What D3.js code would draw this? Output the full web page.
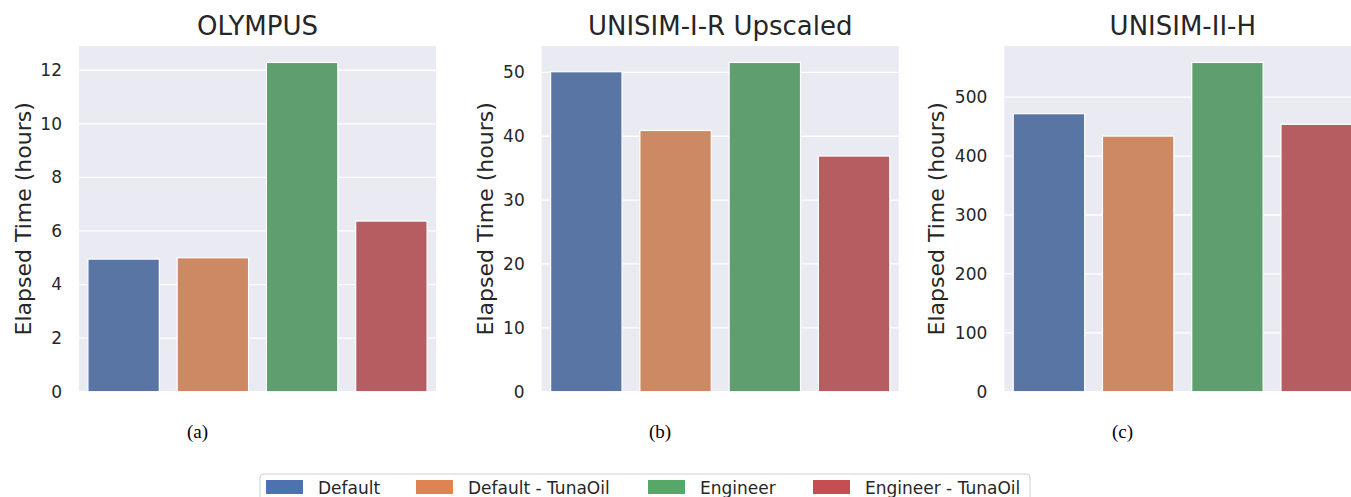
<!DOCTYPE html>
<html>
<head>
<meta charset="utf-8">
<script src="https://cdn.jsdelivr.net/npm/d3@7"></script>
<style>
  body { margin: 0; background: #fff; overflow: hidden; }
  svg { display: block; }
</style>
</head>
<body>
<div id="chart"></div>
<script>
(function(){
    // data
    const series = ['Default', 'Default - TunaOil', 'Engineer', 'Engineer - TunaOil'];
    const titles = ['OLYMPUS', 'UNISIM-I-R Upscaled', 'UNISIM-II-H'];
    const captions = ['(a)', '(b)', '(c)'];
    const olympus = [4.95, 5.0, 12.29, 6.37];
    const unisimIR = [50.1, 40.9, 51.55, 36.9];
    const unisimIIH = [472, 434, 559, 454];
    const ticksA = [0, 2, 4, 6, 8, 10, 12];
    const ticksB = [0, 10, 20, 30, 40, 50];
    const ticksC = [0, 100, 200, 300, 400, 500];

    const barColors = ['#5975a4', '#cc8963', '#5f9e6e', '#b55d60'];
    const legendColors = ['#4c72b0', '#dd8452', '#55a868', '#c44e52'];
    const textColor = '#262626';

    const fullWidth = 1351;
    const fullHeight = 497;

    const panels = [
        { values: olympus, ticks: ticksA, left: 79, labelGap: 48, caption: 197.5 },
        { values: unisimIR, ticks: ticksB, left: 541.7, labelGap: 49, caption: 660 },
        { values: unisimIIH, ticks: ticksC, left: 1004.3, labelGap: 60, caption: 1122.5 },
    ];

    const top = 46;
    const height = 391.7 - top;
    const width = 357;

    const svg = d3.select('#chart')
        .append('svg')
            .attr('width', fullWidth)
            .attr('height', fullHeight)
            .style('font-family', 'DejaVu Sans, sans-serif');

    panels.forEach((p, i) => {
        const g = svg.append('g')
            .attr('transform', `translate(${p.left}, ${top})`);

        g.append('rect')
            .attr('width', width)
            .attr('height', height)
            .style('fill', '#eaeaf2');

        const xScale = d3.scaleBand()
            .domain(series)
            .range([0, width])
            .paddingInner(0.2)
            .paddingOuter(0.1);

        const yScale = d3.scaleLinear()
            .domain([0, d3.max(p.values) * 1.05])
            .range([height, 0]);

        // grid
        g.append('g')
            .selectAll('line')
            .data(p.ticks)
            .join('line')
                .attr('x1', 0)
                .attr('x2', width)
                .attr('y1', d => yScale(d))
                .attr('y2', d => yScale(d))
                .style('stroke', '#fff')
                .style('stroke-width', 1.3);

        const yAxis = d3.axisLeft(yScale)
            .tickValues(p.ticks)
            .tickSize(0)
            .tickPadding(17);

        const ya = g.append('g').call(yAxis);
        ya.select('.domain').remove();
        ya.selectAll('text')
            .style('font-size', '17px')
            .style('fill', textColor)
            .style('font-family', 'DejaVu Sans, sans-serif');

        g.selectAll('.bar')
            .data(p.values)
            .join('rect')
                .attr('class', 'bar')
                .attr('x', (d, j) => xScale(series[j]))
                .attr('width', xScale.bandwidth())
                .attr('y', d => yScale(d))
                .attr('height', d => height - yScale(d))
                .style('fill', (d, j) => barColors[j])
                .style('stroke', '#fff')
                .style('stroke-width', 1.2);

        g.append('text')
            .attr('x', width / 2)
            .attr('y', -11)
            .attr('text-anchor', 'middle')
            .style('font-size', '26px')
            .style('fill', textColor)
            .text(titles[i]);

        g.append('text')
            .attr('transform', `translate(${-p.labelGap}, ${height / 2}) rotate(-90)`)
            .attr('text-anchor', 'middle')
            .style('font-size', '22px')
            .style('fill', textColor)
            .text('Elapsed Time (hours)');

        svg.append('text')
            .attr('x', p.caption)
            .attr('y', 438)
            .attr('text-anchor', 'middle')
            .style('font-family', 'Liberation Serif, Times New Roman, serif')
            .style('font-size', '19px')
            .style('fill', '#000')
            .text(captions[i]);
    });

    // legend
    const legend = svg.append('g')
        .attr('transform', 'translate(260, 474)');

    legend.append('rect')
        .attr('width', 770)
        .attr('height', 30)
        .attr('rx', 3)
        .style('fill', '#fff')
        .style('stroke', '#d0d0d0');

    const legendX = [6, 156, 388, 553];
    const item = legend.selectAll('.item')
        .data(series)
        .join('g')
            .attr('class', 'item')
            .attr('transform', (d, j) => `translate(${legendX[j]}, 5)`);

    item.append('rect')
        .attr('width', 37)
        .attr('height', 14)
        .attr('y', 1)
        .style('fill', (d, j) => legendColors[j]);

    item.append('text')
        .attr('x', 52)
        .attr('y', 14.5)
        .style('font-size', '17px')
        .style('fill', textColor)
        .text(d => d);
}())
</script>
</body>
</html>
